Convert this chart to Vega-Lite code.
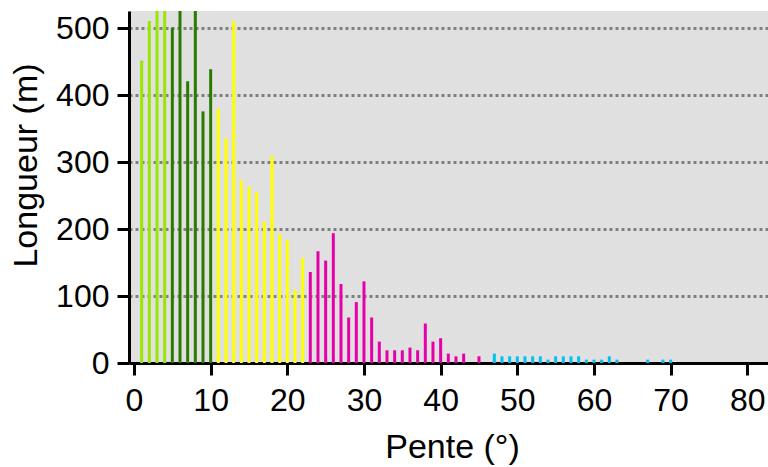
{
  "$schema": "https://vega.github.io/schema/vega-lite/v6.json",
  "width": 639,
  "height": 352,
  "autosize": {"type": "none"},
  "padding": {"left": 129, "top": 11, "right": 0, "bottom": 104},
  "background": "white",
  "config": {
    "view": {"fill": "#e0e0e0", "stroke": null},
    "axis": {
      "labelFont": "Liberation Sans",
      "titleFont": "Liberation Sans",
      "labelFontSize": 32,
      "titleFontSize": 34,
      "titleFontWeight": "normal",
      "labelColor": "black",
      "titleColor": "black",
      "domainColor": "black",
      "domainWidth": 3,
      "tickColor": "black",
      "tickWidth": 3,
      "tickSize": 12,
      "labelFlush": false,
      "labelOverlap": false
    }
  },
  "data": {
    "values": [
      {"pente": 1, "longueur": 452, "classe": "A"},
      {"pente": 2, "longueur": 511, "classe": "A"},
      {"pente": 3, "longueur": 560, "classe": "A"},
      {"pente": 4, "longueur": 560, "classe": "A"},
      {"pente": 5, "longueur": 501, "classe": "B"},
      {"pente": 6, "longueur": 560, "classe": "B"},
      {"pente": 7, "longueur": 421, "classe": "B"},
      {"pente": 8, "longueur": 560, "classe": "B"},
      {"pente": 9, "longueur": 376, "classe": "B"},
      {"pente": 10, "longueur": 439, "classe": "B"},
      {"pente": 11, "longueur": 380, "classe": "C"},
      {"pente": 12, "longueur": 336, "classe": "C"},
      {"pente": 13, "longueur": 511, "classe": "C"},
      {"pente": 14, "longueur": 273, "classe": "C"},
      {"pente": 15, "longueur": 264, "classe": "C"},
      {"pente": 16, "longueur": 255, "classe": "C"},
      {"pente": 17, "longueur": 211, "classe": "C"},
      {"pente": 18, "longueur": 309, "classe": "C"},
      {"pente": 19, "longueur": 193, "classe": "C"},
      {"pente": 20, "longueur": 184, "classe": "C"},
      {"pente": 21, "longueur": 109, "classe": "C"},
      {"pente": 22, "longueur": 157, "classe": "C"},
      {"pente": 23, "longueur": 136, "classe": "D"},
      {"pente": 24, "longueur": 167, "classe": "D"},
      {"pente": 25, "longueur": 153, "classe": "D"},
      {"pente": 26, "longueur": 194, "classe": "D"},
      {"pente": 27, "longueur": 118, "classe": "D"},
      {"pente": 28, "longueur": 68, "classe": "D"},
      {"pente": 29, "longueur": 91, "classe": "D"},
      {"pente": 30, "longueur": 122, "classe": "D"},
      {"pente": 31, "longueur": 68, "classe": "D"},
      {"pente": 32, "longueur": 32, "classe": "D"},
      {"pente": 33, "longueur": 19, "classe": "D"},
      {"pente": 34, "longueur": 19, "classe": "D"},
      {"pente": 35, "longueur": 19, "classe": "D"},
      {"pente": 36, "longueur": 23, "classe": "D"},
      {"pente": 37, "longueur": 19, "classe": "D"},
      {"pente": 38, "longueur": 59, "classe": "D"},
      {"pente": 39, "longueur": 32, "classe": "D"},
      {"pente": 40, "longueur": 37, "classe": "D"},
      {"pente": 41, "longueur": 14, "classe": "D"},
      {"pente": 42, "longueur": 10, "classe": "D"},
      {"pente": 43, "longueur": 14, "classe": "D"},
      {"pente": 45, "longueur": 10, "classe": "D"},
      {"pente": 47, "longueur": 14, "classe": "E"},
      {"pente": 48, "longueur": 10, "classe": "E"},
      {"pente": 49, "longueur": 10, "classe": "E"},
      {"pente": 50, "longueur": 10, "classe": "E"},
      {"pente": 51, "longueur": 10, "classe": "E"},
      {"pente": 52, "longueur": 10, "classe": "E"},
      {"pente": 53, "longueur": 10, "classe": "E"},
      {"pente": 54, "longueur": 5, "classe": "E"},
      {"pente": 55, "longueur": 10, "classe": "E"},
      {"pente": 56, "longueur": 10, "classe": "E"},
      {"pente": 57, "longueur": 10, "classe": "E"},
      {"pente": 58, "longueur": 10, "classe": "E"},
      {"pente": 59, "longueur": 5, "classe": "E"},
      {"pente": 60, "longueur": 5, "classe": "E"},
      {"pente": 61, "longueur": 5, "classe": "E"},
      {"pente": 62, "longueur": 10, "classe": "E"},
      {"pente": 63, "longueur": 5, "classe": "E"},
      {"pente": 67, "longueur": 5, "classe": "E"},
      {"pente": 69, "longueur": 5, "classe": "E"},
      {"pente": 70, "longueur": 5, "classe": "E"}
    ]
  },
  "mark": {"type": "bar", "size": 3, "clip": true},
  "encoding": {
    "x": {
      "field": "pente",
      "type": "quantitative",
      "scale": {"domain": [0, 82.05], "nice": false, "zero": false},
      "axis": {
        "title": "Pente (°)",
        "values": [0, 10, 20, 30, 40, 50, 60, 70, 80],
        "grid": false,
        "labelPadding": 10,
        "titleX": 323,
        "titleY": 94,
        "titleAlign": "center",
        "titleBaseline": "alphabetic"
      }
    },
    "y": {
      "field": "longueur",
      "type": "quantitative",
      "scale": {"domain": [0, 526], "nice": false},
      "axis": {
        "title": "Longueur (m)",
        "values": [0, 100, 200, 300, 400, 500],
        "grid": true,
        "gridColor": "#808080",
        "gridWidth": 3,
        "gridDash": [3, 3],
        "gridOpacity": 1,
        "labelPadding": 8,
        "titleAngle": -90,
        "titleX": -93,
        "titleY": 154,
        "titleAlign": "center",
        "titleBaseline": "alphabetic"
      }
    },
    "color": {
      "field": "classe",
      "type": "nominal",
      "scale": {
        "domain": ["A", "B", "C", "D", "E"],
        "range": ["#99e600", "#2a7a00", "#ffff00", "#e600aa", "#00c0f5"]
      },
      "legend": null
    }
  }
}
